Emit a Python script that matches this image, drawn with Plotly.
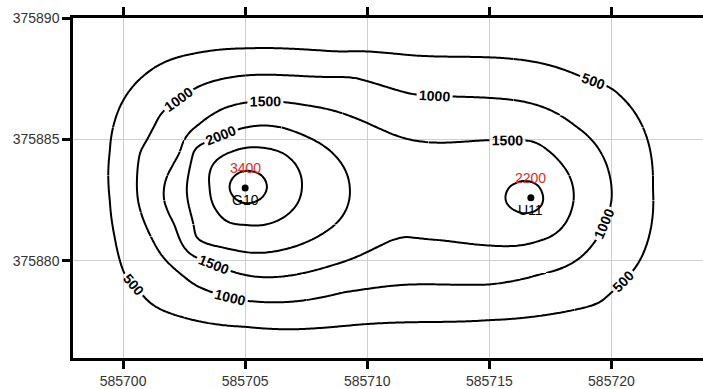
import numpy as np
import plotly.graph_objects as go

# ---------------- data ----------------
WELL_NAMES = ["G10", "U11"]
WELL_X = [585705.0, 585716.7]
WELL_Y = [375883.0, 375882.6]
WELL_VALUES = [3400, 2200]

X_TICKS = [585700, 585705, 585710, 585715, 585720]
Y_TICKS = [375880, 375885, 375890]

C500_X = [585699.45, 585699.45, 585699.66, 585699.99, 585700.15, 585700.64, 585700.68,
          585701.17, 585701.79, 585702.73, 585703.14, 585705.06, 585705.06, 585708.87,
          585709.08, 585715.01, 585715.01, 585717.76, 585718.41, 585719.11, 585719.52,
          585719.81, 585720.01, 585721.16, 585721.16, 585721.70]
C500_Y = [375882.58, 375884.42, 375880.95, 375886.58, 375879.33, 375878.79, 375887.48,
          375878.22, 375888.22, 375877.60, 375888.58, 375888.75, 375877.28, 375888.62,
          375877.32, 375888.38, 375877.56, 375887.97, 375877.97, 375887.44, 375878.30,
          375887.20, 375878.71, 375885.77, 375880.01, 375883.00]

C1000_X = [585700.60, 585700.68, 585701.38, 585701.62, 585702.20, 585702.41, 585703.14,
           585703.14, 585704.04, 585705.06, 585704.90, 585709.28, 585709.08, 585711.86,
           585712.80, 585712.96, 585715.01, 585715.01, 585717.06, 585717.06, 585718.41,
           585719.23, 585719.52, 585719.81, 585720.01, 585719.72]
C1000_Y = [375882.58, 375884.42, 375880.54, 375886.13, 375879.60, 375886.75, 375887.20,
           375878.91, 375878.58, 375887.64, 375878.38, 375887.56, 375878.71, 375886.87,
           375886.79, 375879.03, 375886.71, 375879.03, 375886.38, 375879.44, 375885.64,
           375880.67, 375884.54, 375883.93, 375882.58, 375881.56]

C1500_X = [585701.67, 585702.32, 585702.20, 585703.14, 585703.26, 585704.08, 585704.04,
           585705.68, 585704.90, 585706.54, 585709.28, 585709.28, 585711.33, 585711.33,
           585712.27, 585712.27, 585715.01, 585715.92, 585715.22, 585716.78, 585717.06,
           585717.76, 585718.41, 585718.29, 585717.76]
C1500_Y = [375882.58, 375884.42, 375881.24, 375885.64, 375880.05, 375886.26, 375879.72,
           375886.58, 375879.44, 375886.54, 375885.97, 375880.05, 375885.11, 375880.95,
           375884.91, 375880.91, 375884.97, 375884.95, 375880.62, 375884.91, 375880.83,
           375884.22, 375883.11, 375881.89, 375881.16]

C2000_X = [585702.61, 585702.85, 585703.14, 585704.57, 585705.47, 585707.23, 585708.75,
           585709.28, 585708.87, 585707.64, 585705.19, 585703.14,
           585715.67, 585717.19, 585716.41, 585716.41]
C2000_Y = [375882.99, 375884.42, 375884.75, 375885.36, 375885.56, 375885.24, 375884.26,
           375883.04, 375881.69, 375880.83, 375880.34, 375880.83,
           375882.62, 375882.62, 375883.28, 375881.97]

C2500_X = [585703.55, 585703.84, 585705.06, 585706.70, 585707.32, 585706.54, 585705.06]
C2500_Y = [375882.99, 375882.05, 375884.66, 375884.34, 375882.99, 375881.77, 375881.48]

C3000_X = [585704.37, 585705.10, 585705.88, 585705.10]
C3000_Y = [375882.99, 375883.69, 375882.99, 375882.38]

# ---------------- rebuild the gridded surface (minimum curvature) ----------------
h = 0.5
gx = np.arange(585697.5, 585724.5 + 1e-9, h)
gy = np.arange(375875.5, 375890.5 + 1e-9, h)
nx, ny = len(gx), len(gy)
N = nx * ny

LEVEL_SETS = [(500, C500_X, C500_Y), (1000, C1000_X, C1000_Y),
              (1500, C1500_X, C1500_Y), (2000, C2000_X, C2000_Y),
              (2500, C2500_X, C2500_Y), (3000, C3000_X, C3000_Y)]
px, py, pv = [], [], []
for lev, xs, ys in LEVEL_SETS:
    px += list(xs)
    py += list(ys)
    pv += [lev] * len(xs)
px += WELL_X
py += WELL_Y
pv += WELL_VALUES


def cr_w(t):
    return [(-t**3 + 2 * t**2 - t) / 2, (3 * t**3 - 5 * t**2 + 2) / 2,
            (-3 * t**3 + 4 * t**2 + t) / 2, (t**3 - t**2) / 2]


A = np.zeros((len(px), N))
for k, (xx, yy) in enumerate(zip(px, py)):
    u = (xx - gx[0]) / h
    i = int(np.floor(u)); wx = cr_w(u - i)
    v = (yy - gy[0]) / h
    j = int(np.floor(v)); wy = cr_w(v - j)
    for a in range(4):
        for c in range(4):
            ii = min(max(i - 1 + a, 0), nx - 1)
            jj = min(max(j - 1 + c, 0), ny - 1)
            A[k, jj * nx + ii] += wx[a] * wy[c]
b = np.array(pv, dtype=float)


def d2(n):
    D = np.zeros((n - 2, n))
    for r in range(n - 2):
        D[r, r:r + 3] = [1, -2, 1]
    return D


def d1(n):
    D = np.zeros((n - 1, n))
    for r in range(n - 1):
        D[r, r:r + 2] = [-1, 1]
    return D


D2x, D2y, D1x, D1y = d2(nx), d2(ny), d1(nx), d1(ny)
K = (np.kron(np.eye(ny), D2x.T @ D2x) + np.kron(D2y.T @ D2y, np.eye(nx))
     + 2 * np.kron(D1y.T @ D1y, D1x.T @ D1x))
lam = 1e-2
z = np.linalg.solve(A.T @ A + lam * K, A.T @ b).reshape(ny, nx)


def cr_matrix(n, f):
    m = (n - 1) * f + 1
    M = np.zeros((m, n))
    for r in range(m):
        u = r / f
        i = min(int(np.floor(u)), n - 2)
        for kk, wk in zip(range(i - 1, i + 3), cr_w(u - i)):
            M[r, min(max(kk, 0), n - 1)] += wk
    return M


f = 4
Mx, My = cr_matrix(nx, f), cr_matrix(ny, f)
zf = My @ z @ Mx.T
fxg = gx[0] + np.arange(Mx.shape[0]) * h / f
fyg = gy[0] + np.arange(My.shape[0]) * h / f
nxf, nyf = len(fxg), len(fyg)

FONT = "Liberation Sans, Arial, Helvetica, sans-serif"
label_font = dict(family=FONT, size=14, color="black", weight="bold")
line = dict(color="black", width=2, smoothing=0.85)

# regions in which each labelled level gets one label
LABEL_BOXES = {
    500: [(585716.0, 585722.5, 375885.5, 375890.5),
          (585697.5, 585702.5, 375875.5, 375883.5),
          (585718.5, 585723.5, 375875.5, 375882.5)],
    1000: [(585699.5, 585705.0, 375882.0, 375890.5),
           (585709.5, 585716.0, 375885.5, 375890.5),
           (585700.75, 585707.5, 375875.5, 375881.0),
           (585717.0, 585723.5, 375879.5, 375886.0)],
    1500: [(585702.5, 585709.0, 375884.5, 375890.5),
           (585712.5, 585719.0, 375883.5, 375890.5),
           (585700.25, 585707.0, 375875.5, 375882.5)],
    2000: [(585701.5, 585706.5, 375881.5, 375890.5)],
}


def xi(val):
    return int(round((val - fxg[0]) / (h / f)))


def yi(val):
    return int(round((val - fyg[0]) / (h / f)))


def pieces(boxes):
    bidx = [(xi(a), xi(b2), yi(c), yi(d)) for a, b2, c, d in boxes]
    xc = sorted(set([0, nxf - 1] + [v for bb in bidx for v in bb[:2]]))
    yc = sorted(set([0, nyf - 1] + [v for bb in bidx for v in bb[2:]]))
    out = [(bb, True) for bb in bidx]
    for r in range(len(yc) - 1):
        y0, y1 = yc[r], yc[r + 1]
        run = None
        for c in range(len(xc) - 1):
            x0, x1 = xc[c], xc[c + 1]
            cx, cy = (x0 + x1) / 2, (y0 + y1) / 2
            inside = any(bb[0] <= cx <= bb[1] and bb[2] <= cy <= bb[3] for bb in bidx)
            if inside:
                if run:
                    out.append(((run[0], run[1], y0, y1), False))
                    run = None
            else:
                run = (run[0], x1) if run else (x0, x1)
        if run:
            out.append(((run[0], run[1], y0, y1), False))
    return out


def contour(box, start, end, size, labels):
    x0, x1, y0, y1 = box
    return go.Contour(
        x=fxg[x0:x1 + 1], y=fyg[y0:y1 + 1], z=zf[y0:y1 + 1, x0:x1 + 1], autocontour=False,
        contours=dict(start=start, end=end, size=size, coloring="none",
                      showlabels=labels, labelfont=label_font),
        line=line, showscale=False, hoverinfo="skip")


fig = go.Figure()
for lev, boxes in LABEL_BOXES.items():
    for box, lab in pieces(boxes):
        fig.add_trace(contour(box, lev, lev + 1, 1000, lab))
fig.add_trace(contour((0, nxf - 1, 0, nyf - 1), 2500, 3000, 500, False))

fig.add_trace(go.Scatter(x=WELL_X, y=WELL_Y, mode="markers",
                         marker=dict(color="black", size=7), hoverinfo="skip"))

for name, x, y, v in zip(WELL_NAMES, WELL_X, WELL_Y, WELL_VALUES):
    fig.add_annotation(x=x, y=y, text=str(v), showarrow=False, yshift=20,
                       font=dict(family=FONT, size=14, color="#e3262b"))
    fig.add_annotation(x=x, y=y, text=name, showarrow=False, yshift=-12,
                       font=dict(family=FONT, size=14, color="black"))

axis_common = dict(showgrid=True, gridcolor="#cfcfcf", gridwidth=1, zeroline=False,
                   showline=True, linecolor="black", linewidth=2.5,
                   ticks="outside", ticklen=8, tickwidth=2.5, tickcolor="black",
                   tickformat="d", tickfont=dict(family=FONT, size=14, color="#333333"))

fig.update_layout(
    width=703, height=389,
    margin=dict(l=73, r=0, t=18, b=28),
    plot_bgcolor="white", paper_bgcolor="white",
    showlegend=False,
    xaxis=dict(range=[585697.95, 585723.75], tickvals=X_TICKS, mirror="ticks", **axis_common),
    yaxis=dict(range=[375876.0, 375890.0], tickvals=Y_TICKS, **axis_common),
)

fig.write_html("out.html", config={"displayModeBar": False})
